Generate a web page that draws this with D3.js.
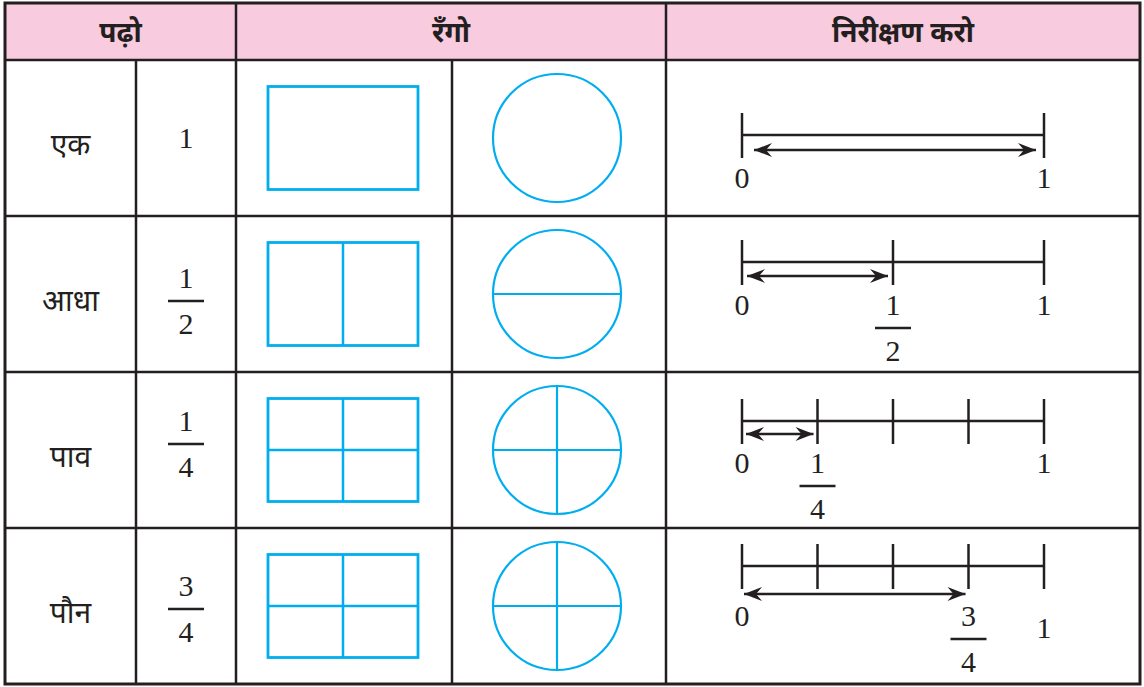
<!DOCTYPE html>
<html>
<head>
<meta charset="utf-8">
<script src="https://cdn.jsdelivr.net/npm/d3@7"></script>
<style>
  body { margin: 0; background: #fff; }
  .hi { font-family: "Noto Sans Devanagari", "Lohit Devanagari", "Noto Sans", sans-serif; fill: #231f20; }
  .num { font-family: "Liberation Serif", "Times New Roman", serif; fill: #231f20; }
</style>
</head>
<body>
<script>
// table content
let headers = ["पढ़ो", "रँगो", "निरीक्षण करो"];
let words = ["एक", "आधा", "पाव", "पौन"];
let numerators = [1, 1, 1, 3];
let denominators = [1, 2, 4, 4];

let w = 1144;
let h = 687;
let ink = "#231f20";
let blue = "#00aeef";
let pink = "#f9cbdf";

// table frame
let tLeft = 5, tRight = 1140, tTop = 3, headBottom = 60, tBottom = 684;
let colX = [tLeft, 136, 236, 452, 666, tRight];

// per row tweaks: fraction bar shift in column 2, number line offsets from row top
let fracShift = [0, 7, -6, 3];
let nlLayout = [
  { tick: 53, arrow: 37, label: 75, endLabel: 75, inset: [12, 8] },
  { tick: 24, arrow: 36, label: 75, endLabel: 75, inset: [5, 5] },
  { tick: 27, arrow: 35, label: 74, endLabel: 74, inset: [4, 4] },
  { tick: 16, arrow: 50, label: 82, endLabel: 94, inset: [2, 3] }
];
let tickLen = 45;

let svg = d3.select("body").append("svg")
  .attr("width", w)
  .attr("height", h);

let yScale = d3.scaleBand()
  .domain(d3.range(words.length))
  .range([headBottom, tBottom]);

let nlScale = d3.scaleLinear()
  .domain([0, 1])
  .range([742, 1044]);

// arrowheads
let defs = svg.append("defs");
defs.append("marker")
  .attr("id", "head")
  .attr("markerUnits", "userSpaceOnUse")
  .attr("viewBox", "-20 -9 22 18")
  .attr("refX", 0).attr("refY", 0)
  .attr("markerWidth", 22).attr("markerHeight", 18)
  .attr("orient", "auto-start-reverse")
  .append("path")
  .attr("d", "M0,0 L-18,-7 L-12,0 L-18,7 Z")
  .style("fill", ink);

// header background
svg.append("rect")
  .attr("x", tLeft).attr("y", tTop)
  .attr("width", tRight - tLeft).attr("height", headBottom - tTop)
  .style("fill", pink);

let headCenters = [(colX[0] + colX[2]) / 2, (colX[2] + colX[4]) / 2, (colX[4] + colX[5]) / 2];
svg.selectAll(".head")
  .data(headers)
  .enter()
  .append("text")
  .classed("hi", true)
  .attr("x", (d, i) => headCenters[i])
  .attr("y", 42)
  .attr("text-anchor", "middle")
  .style("font-size", "28px")
  .style("font-weight", "bold")
  .text((d) => d);

let rows = svg.selectAll(".row")
  .data(words.map((d, i) => ({ word: d, num: numerators[i], den: denominators[i], i: i })))
  .enter()
  .append("g")
  .classed("row", true)
  .attr("transform", (d) => `translate(0, ${yScale(d.i)})`);

let bw = yScale.bandwidth();
let mid = bw / 2;

// word
rows.append("text")
  .classed("hi", true)
  .attr("x", (colX[0] + colX[1]) / 2)
  .attr("y", mid + 17)
  .attr("text-anchor", "middle")
  .style("font-size", "30px")
  .text((d) => d.word);

// number / fraction in second column
let c2 = (colX[1] + colX[2]) / 2;
function fraction(g, x, y, d, barW) {
  if (d.den === 1) {
    g.append("text").classed("num", true)
      .attr("x", x).attr("y", y + 10)
      .attr("text-anchor", "middle")
      .style("font-size", "30px")
      .text(d.num);
    return;
  }
  g.append("text").classed("num", true)
    .attr("x", x).attr("y", y - 13)
    .attr("text-anchor", "middle")
    .style("font-size", "30px")
    .text(d.num);
  g.append("line")
    .attr("x1", x - barW / 2).attr("x2", x + barW / 2)
    .attr("y1", y).attr("y2", y)
    .style("stroke", ink).style("stroke-width", 2.5);
  g.append("text").classed("num", true)
    .attr("x", x).attr("y", y + 33)
    .attr("text-anchor", "middle")
    .style("font-size", "30px")
    .text(d.den);
}
rows.each(function (d) {
  fraction(d3.select(this), c2, mid + fracShift[d.i], d, 36);
});

// rectangle
let rw = 150, rh = 103;
let rcx = (colX[2] + colX[3]) / 2 - 1;
rows.append("rect")
  .attr("x", rcx - rw / 2).attr("y", mid - rh / 2)
  .attr("width", rw).attr("height", rh)
  .style("fill", "none").style("stroke", blue).style("stroke-width", 2.8);
rows.filter((d) => d.den >= 2).append("line")
  .attr("x1", rcx).attr("x2", rcx)
  .attr("y1", mid - rh / 2).attr("y2", mid + rh / 2)
  .style("stroke", blue).style("stroke-width", 2.5);
rows.filter((d) => d.den >= 4).append("line")
  .attr("x1", rcx - rw / 2).attr("x2", rcx + rw / 2)
  .attr("y1", mid).attr("y2", mid)
  .style("stroke", blue).style("stroke-width", 2.5);

// circle
let r = 64;
let ccx = 557;
rows.append("circle")
  .attr("cx", ccx).attr("cy", mid).attr("r", r)
  .style("fill", "none").style("stroke", blue).style("stroke-width", 2.2);
rows.filter((d) => d.den >= 2).append("line")
  .attr("x1", ccx - r).attr("x2", ccx + r)
  .attr("y1", mid).attr("y2", mid)
  .style("stroke", blue).style("stroke-width", 2.2);
rows.filter((d) => d.den >= 4).append("line")
  .attr("x1", ccx).attr("x2", ccx)
  .attr("y1", mid - r).attr("y2", mid + r)
  .style("stroke", blue).style("stroke-width", 2.2);

// number lines
rows.each(function (d) {
  let g = d3.select(this);
  let L = nlLayout[d.i];
  let ticks = d3.range(d.den + 1).map((k) => k / d.den);

  g.append("line")
    .attr("x1", nlScale(0)).attr("x2", nlScale(1))
    .attr("y1", L.tick + 22).attr("y2", L.tick + 22)
    .style("stroke", ink).style("stroke-width", 2.5);

  g.selectAll(".tick")
    .data(ticks)
    .enter()
    .append("line")
    .attr("x1", (t) => nlScale(t)).attr("x2", (t) => nlScale(t))
    .attr("y1", L.tick).attr("y2", L.tick + tickLen)
    .style("stroke", ink).style("stroke-width", 2.5);

  g.append("line")
    .attr("x1", nlScale(0) + L.inset[0])
    .attr("x2", nlScale(d.num / d.den) - L.inset[1])
    .attr("y1", L.tick + L.arrow).attr("y2", L.tick + L.arrow)
    .attr("marker-start", "url(#head)")
    .attr("marker-end", "url(#head)")
    .style("stroke", ink).style("stroke-width", 2.4);

  g.append("text").classed("num", true)
    .attr("x", nlScale(0)).attr("y", L.tick + L.label)
    .attr("text-anchor", "middle")
    .style("font-size", "30px")
    .text(0);
  g.append("text").classed("num", true)
    .attr("x", nlScale(1)).attr("y", L.tick + L.endLabel)
    .attr("text-anchor", "middle")
    .style("font-size", "30px")
    .text(1);

  if (d.den > 1) {
    fraction(g, nlScale(d.num / d.den), L.tick + L.label + 13, d, 36);
  }
});

// grid lines
let grid = svg.append("g").style("stroke", ink).style("stroke-width", 2.5);
grid.append("line")
  .attr("x1", tLeft).attr("x2", tRight)
  .attr("y1", headBottom).attr("y2", headBottom);
grid.selectAll(".hline")
  .data(d3.range(1, words.length))
  .enter()
  .append("line")
  .attr("x1", tLeft).attr("x2", tRight)
  .attr("y1", (i) => yScale(i)).attr("y2", (i) => yScale(i));
// vertical lines: header spans only the group dividers
grid.selectAll(".vfull")
  .data([colX[2], colX[4]])
  .enter()
  .append("line")
  .attr("x1", (x) => x).attr("x2", (x) => x)
  .attr("y1", tTop).attr("y2", tBottom);
grid.selectAll(".vbody")
  .data([colX[1], colX[3]])
  .enter()
  .append("line")
  .attr("x1", (x) => x).attr("x2", (x) => x)
  .attr("y1", headBottom).attr("y2", tBottom);
svg.append("rect")
  .attr("x", tLeft).attr("y", tTop)
  .attr("width", tRight - tLeft).attr("height", tBottom - tTop)
  .style("fill", "none").style("stroke", ink).style("stroke-width", 3);
</script>
</body>
</html>
